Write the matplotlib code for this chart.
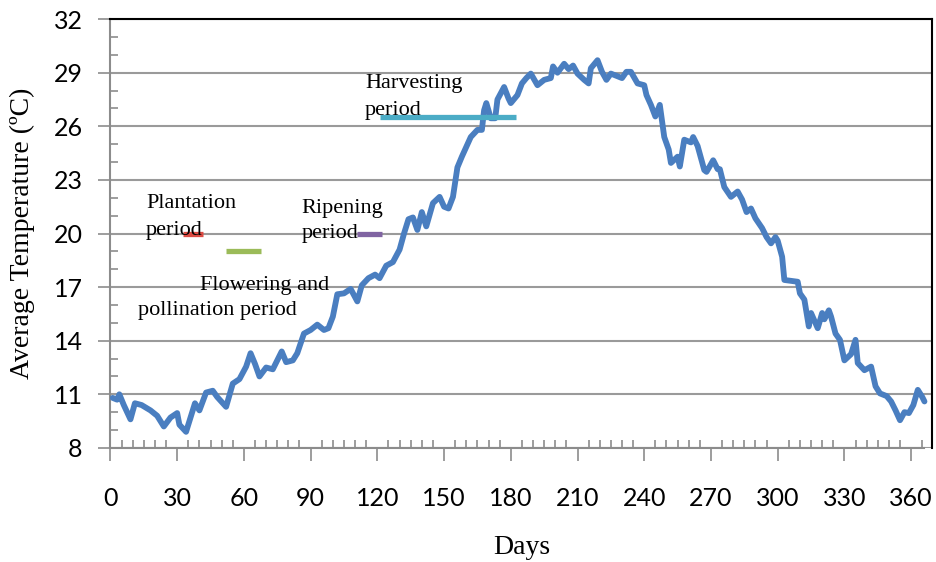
import matplotlib
matplotlib.use("Agg")
import matplotlib.pyplot as plt
from matplotlib.ticker import MultipleLocator, FixedLocator

# daily average temperature (day, deg C)
days = [1, 3, 4, 6, 9, 11, 14, 18, 21, 24, 27, 30, 31, 34, 38, 40, 43, 46, 48, 52,
        55, 58, 61, 63, 65, 67, 70, 73, 77, 79, 82, 84, 87, 90, 93, 96, 98, 100, 102, 105,
        108, 111, 113, 116, 119, 121, 124, 127, 130, 132, 134, 136, 138, 140, 142, 145, 148, 150, 152, 154,
        156, 158, 160, 162, 165, 167, 168, 169, 171, 173, 174, 177, 179, 180, 183, 185, 187, 189, 192, 195,
        198, 199, 201, 204, 206, 208, 210, 213, 215, 216, 219, 221, 223, 225, 228, 230, 232, 234, 237, 240,
        241, 243, 245, 247, 249, 251, 252, 255, 256, 258, 261, 262, 264, 267, 268, 271, 273, 274, 276, 279,
        282, 284, 286, 288, 290, 293, 295, 297, 299, 300, 302, 303, 306, 309, 310, 312, 314, 315, 318, 320,
        321, 323, 324, 326, 328, 330, 333, 335, 336, 339, 342, 344, 346, 349, 351, 353, 355, 357, 359, 361,
        363, 365, 366]
temps = [10.8, 10.7, 11.0, 10.4, 9.6, 10.5, 10.4, 10.1, 9.8, 9.2, 9.7, 9.95, 9.3, 8.9, 10.5, 10.1, 11.1, 11.2, 10.85, 10.3,
         11.6, 11.85, 12.55, 13.3, 12.7, 12.0, 12.5, 12.4, 13.4, 12.8, 12.9, 13.3, 14.4, 14.6, 14.9, 14.6, 14.7, 15.35, 16.6, 16.65,
         16.9, 16.2, 17.1, 17.5, 17.7, 17.5, 18.2, 18.4, 19.1, 20.0, 20.8, 20.9, 20.2, 21.2, 20.4, 21.7, 22.05, 21.5, 21.4, 22.05,
         23.7, 24.3, 24.85, 25.4, 25.8, 25.8, 26.9, 27.3, 26.45, 26.45, 27.5, 28.2, 27.55, 27.3, 27.75, 28.4, 28.7, 28.95, 28.3, 28.6,
         28.7, 29.35, 29.0, 29.5, 29.2, 29.4, 28.95, 28.6, 28.4, 29.25, 29.7, 29.05, 28.6, 28.95, 28.8, 28.7, 29.05, 29.05, 28.4, 28.3,
         27.75, 27.2, 26.55, 27.2, 25.4, 24.7, 23.95, 24.3, 23.75, 25.25, 25.1, 25.4, 24.9, 23.55, 23.45, 24.1, 23.6, 23.6, 22.6, 22.05,
         22.35, 21.9, 21.2, 21.4, 20.85, 20.3, 19.8, 19.45, 19.8, 19.6, 18.7, 17.4, 17.35, 17.3, 16.65, 16.3, 14.8, 15.55, 14.7, 15.55,
         15.2, 15.7, 15.35, 14.4, 14.05, 12.9, 13.25, 14.05, 12.75, 12.35, 12.55, 11.45, 11.05, 10.9, 10.6, 10.1, 9.55, 10.0, 9.95, 10.4,
         11.25, 10.85, 10.6]

# crop stage periods: (start day, end day, temperature level)
period_names = ["Plantation", "Flowering", "Ripening", "Harvesting"]
period_start = [32.5, 52, 111, 121]
period_end = [41.5, 67.5, 122, 182.5]
period_level = [20, 19, 20, 26.5]
period_colors = ["#DC4B43", "#9BBB59", "#8064A2", "#4BACC6"]

y_ticks = [8, 11, 14, 17, 20, 23, 26, 29, 32]

serif = "Liberation Serif"
tick_font = "Lato"

fig = plt.figure(figsize=(9.36, 5.62), dpi=100)
ax = fig.add_axes([0.118, 0.203, 0.878, 0.763])

ax.set_xlim(0, 369.5)
ax.set_ylim(8, 32)
ax.xaxis.set_major_locator(MultipleLocator(30))
ax.xaxis.set_minor_locator(MultipleLocator(5))
ax.yaxis.set_major_locator(FixedLocator(y_ticks))
ax.yaxis.set_minor_locator(MultipleLocator(1))

ax.grid(axis="y", which="major", color="#9a9a9a", lw=1.5)
ax.set_axisbelow(True)

for s in ["left", "bottom"]:
    ax.spines[s].set_color("#8c8c8c")
    ax.spines[s].set_linewidth(1.5)
for s in ["top", "right"]:
    ax.spines[s].set_color("black")
    ax.spines[s].set_linewidth(1.5)
ax.spines["bottom"].set_bounds(0, 366)

ax.tick_params(which="major", direction="out", length=9, width=1.2, color="#8c8c8c",
               labelsize=18)
ax.tick_params(which="minor", direction="in", length=6, width=1.2, color="#8c8c8c")
ax.tick_params(axis="y", which="major", pad=11)
ax.tick_params(axis="x", which="major", pad=19)
for lab in ax.get_xticklabels() + ax.get_yticklabels():
    lab.set_fontfamily(tick_font)

ax.plot(days, temps, color="#4A7EC0", lw=4.2, solid_joinstyle="round",
        solid_capstyle="round", zorder=3)

for x0, x1, lv, c in zip(period_start, period_end, period_level, period_colors):
    ax.plot([x0, x1], [lv, lv], color=c, lw=3.8, solid_capstyle="butt", zorder=4)

tkw = dict(fontfamily=serif, fontsize=16, color="black", va="baseline", ha="left", zorder=5)
ax.text(16, 21.4, "Plantation", **tkw)
ax.text(16, 19.9, "period", **tkw)
ax.text(86, 21.15, "Ripening", **tkw)
ax.text(86, 19.75, "period", **tkw)
ax.text(40.3, 16.85, "Flowering and", **tkw)
ax.text(12.5, 15.45, "pollination period", **tkw)
ax.text(114.5, 28.15, "Harvesting", **tkw)
ax.text(114.5, 26.65, "period", **tkw)

fig.text(0.557, 0.026, "Days", fontfamily=serif, fontsize=20, ha="center", va="center")
fig.text(0.024, 0.585, "Average Temperature (ºC)", fontfamily=serif, fontsize=20,
         rotation=90, ha="center", va="center")

fig.savefig("out.png", dpi=100)
